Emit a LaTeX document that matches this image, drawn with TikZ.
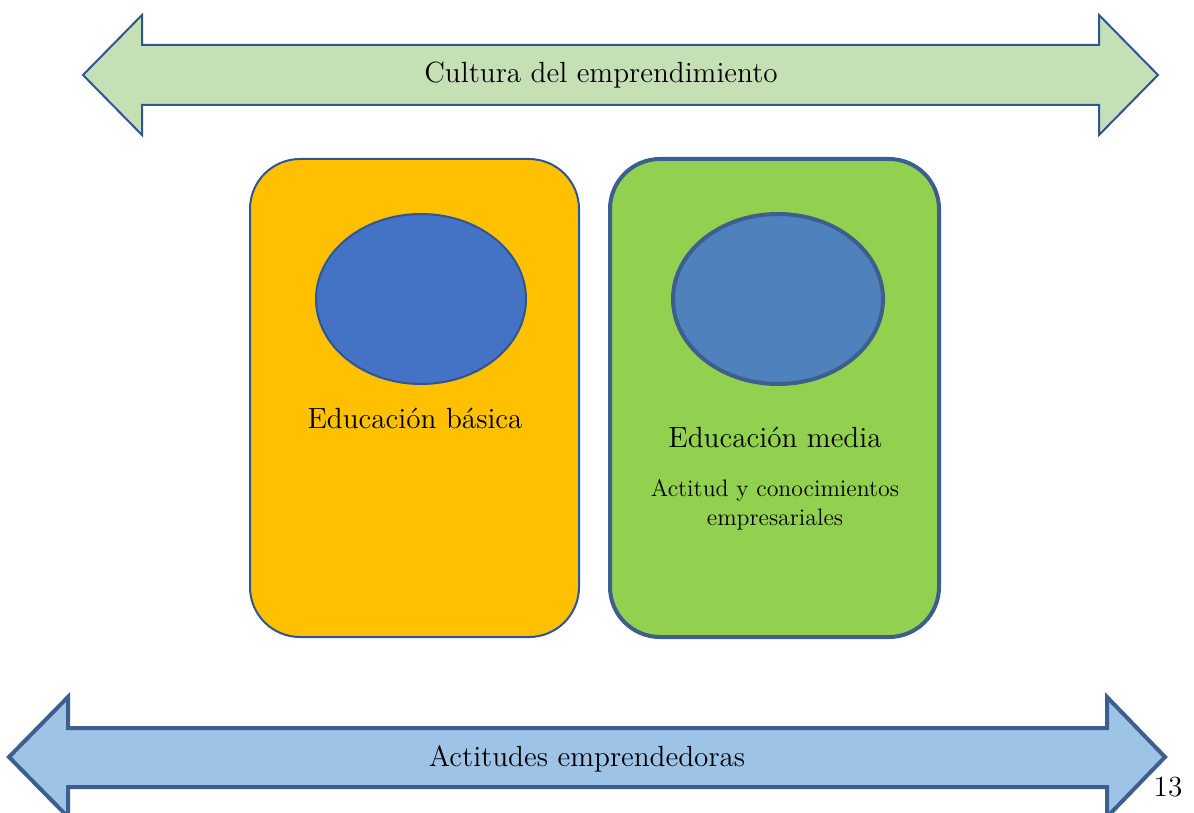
\documentclass[tikz,border=0pt]{standalone}
\usetikzlibrary{shapes.geometric}

\definecolor{bordeazul}{HTML}{2F5597}
\definecolor{bordeosc}{HTML}{3C5F8E}
\definecolor{verdeclaro}{HTML}{C5E0B4}
\definecolor{azulclaro}{HTML}{9DC3E6}
\definecolor{naranja}{HTML}{FFC000}
\definecolor{verde}{HTML}{92D050}
\definecolor{azul}{HTML}{4472C4}
\definecolor{azulmedio}{HTML}{4F81BD}

\tikzset{
	caja/.style = {rectangle, rounded corners=25pt, minimum width=164.5pt, minimum height=239pt, inner sep=0pt},
	ovalo/.style = {ellipse, minimum width=105pt, minimum height=85pt, inner sep=0pt},
	titulo/.style = {font=\fontsize{14.6}{17}\selectfont},
	nota/.style = {font=\fontsize{11.9}{14.5}\selectfont, align=center}
}

\begin{document}
\begin{tikzpicture}[x=0.5pt, y=-0.5pt]
	\useasboundingbox (0,0) rectangle (1194,813);
	% flecha superior
	\draw[bordeazul, fill=verdeclaro, line width=1pt, line join=miter]
		(83,75) -- (142,15) -- (142,45) -- (1099,45) -- (1099,15) -- (1158,75)
		-- (1099,135) -- (1099,105) -- (142,105) -- (142,135) -- cycle;
	\node[titulo] (cultura) at (601,75) {Cultura del emprendimiento};
	% cajas
	\node[caja, draw=bordeazul, fill=naranja, line width=1pt] (basica) at (414.5,398) {};
	\node[caja, draw=bordeosc, fill=verde, line width=2pt] (media) at (774.5,398) {};
	\node[ovalo, draw=bordeazul, fill=azul, line width=1pt] (ovalo1) at (421,299) {};
	\node[ovalo, draw=bordeosc, fill=azulmedio, line width=2pt] (ovalo2) at (778,299) {};
	\node[titulo] (tbasica) at (415,418) {Educación básica};
	\node[titulo] (tmedia) at (775,437) {Educación media};
	\node[nota] (actitud) at (775,505) {Actitud y conocimientos\\empresariales};
	% flecha inferior
	\draw[bordeosc, fill=azulclaro, line width=2pt, line join=miter]
		(9,757) -- (68,697) -- (68,728) -- (1107,728) -- (1107,697) -- (1165,757)
		-- (1107,817) -- (1107,787) -- (68,787) -- (68,817) -- cycle;
	\node[titulo] (actitudes) at (587,759) {Actitudes emprendedoras};
	\node[titulo] (pagina) at (1168,787) {13};
\end{tikzpicture}
\end{document}
